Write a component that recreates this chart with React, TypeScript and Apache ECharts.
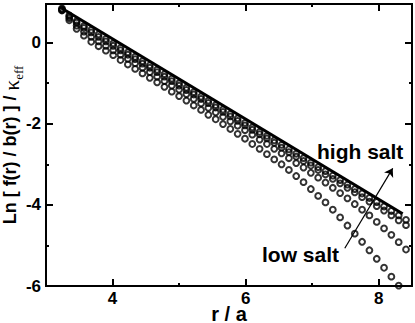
import React, { useEffect, useRef } from "react";
import * as echarts from "echarts";

const rValues = [
  3.24, 3.35, 3.46, 3.57, 3.68, 3.79, 3.9, 4.01, 4.12, 4.23,
  4.34, 4.45, 4.56, 4.67, 4.78, 4.89, 5.0, 5.11, 5.22, 5.33,
  5.44, 5.55, 5.66, 5.77, 5.88, 5.99, 6.1, 6.21, 6.32, 6.43,
  6.54, 6.65, 6.76, 6.87, 6.98, 7.09, 7.2, 7.31, 7.42, 7.53,
  7.64, 7.75, 7.86, 7.97, 8.08, 8.19, 8.3, 8.41,
];
const seriesA = [
  0.84, 0.67, 0.53, 0.41, 0.31, 0.2, 0.09, -0.02, -0.13, -0.24,
  -0.35, -0.46, -0.56, -0.67, -0.78, -0.89, -1.0, -1.11, -1.22, -1.33,
  -1.43, -1.54, -1.65, -1.76, -1.87, -1.98, -2.09, -2.2, -2.3, -2.41,
  -2.52, -2.63, -2.74, -2.85, -2.96, -3.07, -3.17, -3.28, -3.39, -3.5,
  -3.61, -3.72, -3.83, -3.93, -4.04, -4.15, -4.26, -4.37,
];
const seriesB = [
  0.82, 0.64, 0.49, 0.36, 0.25, 0.14, 0.03, -0.08, -0.19, -0.3,
  -0.41, -0.52, -0.62, -0.73, -0.84, -0.95, -1.06, -1.17, -1.28, -1.39,
  -1.49, -1.6, -1.71, -1.82, -1.93, -2.04, -2.15, -2.26, -2.36, -2.47,
  -2.59, -2.7, -2.81, -2.92, -3.03, -3.14, -3.25, -3.36, -3.47, -3.58,
  -3.69, -3.81, -3.92, -4.03, -4.14, -4.26, -4.38, -4.5,
];
const seriesC = [
  0.8, 0.6, 0.42, 0.27, 0.14, 0.03, -0.08, -0.19, -0.3, -0.4,
  -0.51, -0.62, -0.73, -0.84, -0.95, -1.06, -1.16, -1.27, -1.39, -1.5,
  -1.61, -1.72, -1.83, -1.94, -2.05, -2.16, -2.27, -2.39, -2.5, -2.62,
  -2.73, -2.85, -2.97, -3.08, -3.21, -3.33, -3.45, -3.58, -3.71, -3.84,
  -3.98, -4.12, -4.26, -4.42, -4.58, -4.74, -4.92, -5.1,
];
const seriesD = [
  0.79, 0.55, 0.34, 0.17, 0.02, -0.09, -0.2, -0.31, -0.43, -0.54,
  -0.65, -0.76, -0.87, -0.98, -1.09, -1.21, -1.32, -1.43, -1.55, -1.66,
  -1.78, -1.89, -2.01, -2.13, -2.25, -2.37, -2.5, -2.62, -2.75, -2.88,
  -3.0, -3.14, -3.29, -3.44, -3.61, -3.78, -3.94, -4.12, -4.31, -4.51,
  -4.71, -4.91, -5.12, -5.33, -5.55, -5.77, -5.99,
];
const lineR = [3.23, 8.36];
const lineY = [0.85, -4.22];
const xMajorTicks = [4, 6, 8];
const xMinorTicks = [5, 7];
const yMajorTicks = [-6, -4, -2, 0];
const yMinorTicks = [-5, -3, -1];
const arrowFrom = [7.49, -5.07];
const arrowTo = [8.21, -3.1];

const FONT = "'Liberation Sans', Arial, Helvetica, sans-serif";
const SERIF = "'Liberation Serif', 'DejaVu Serif', serif";

export default function App() {
  const ref = useRef<HTMLDivElement>(null);
  useEffect(() => {
    document.body.style.margin = "0";
    const chart = echarts.init(ref.current!, null, { renderer: "svg" });

    const xBase = {
      type: "value",
      min: 3,
      max: 8.5,
      interval: 1,
      splitLine: { show: false },
      axisLine: { show: false, onZero: false },
    };
    const yBase = {
      type: "value",
      min: -6,
      max: 0.95,
      interval: 1,
      splitLine: { show: false },
      axisLine: { show: false, onZero: false },
    };
    const tick = (vals: number[], len: number) => ({
      show: true,
      inside: true,
      length: len,
      customValues: vals,
      lineStyle: { color: "#000", width: 2 },
    });
    const labelStyle = {
      color: "#000",
      fontSize: 17,
      fontWeight: "bold",
      fontFamily: FONT,
    };

    const toPts = (ys: number[]) => ys.map((y, i) => [rValues[i], y]);
    const scatter = (ys: number[]) => ({
      type: "scatter",
      data: toPts(ys),
      symbol: "circle",
      symbolSize: 5.8,
      itemStyle: { color: "rgba(0,0,0,0)", borderColor: "#000", borderWidth: 2 },
      clip: true,
      silent: true,
    });

    const option = {
      animation: false,
      grid: {
        left: 46,
        right: 3,
        top: 4,
        bottom: 37,
        show: true,
        borderColor: "#000",
        borderWidth: 2,
        backgroundColor: "transparent",
        containLabel: false,
        outerBoundsMode: "none",
      },
      xAxis: [
        {
          ...xBase,
          position: "bottom",
          axisTick: tick(xMajorTicks, 7),
          axisLabel: { ...labelStyle, customValues: xMajorTicks, margin: 5, lineHeight: 14 },
          name: "r / a",
          nameLocation: "middle",
          nameGap: 20,
          nameMoveOverlap: false,
          nameTextStyle: { color: "#000", fontSize: 20, fontWeight: "bold", fontFamily: FONT, lineHeight: 16 },
        },
        { ...xBase, position: "bottom", axisTick: tick(xMinorTicks, 3), axisLabel: { show: false } },
        { ...xBase, position: "top", axisTick: tick(xMajorTicks, 7), axisLabel: { show: false } },
        { ...xBase, position: "top", axisTick: tick(xMinorTicks, 3), axisLabel: { show: false } },
      ],
      yAxis: [
        {
          ...yBase,
          position: "left",
          axisTick: tick(yMajorTicks, 7),
          axisLabel: { ...labelStyle, customValues: yMajorTicks, margin: 5 },
          name: "{m|Ln [ f(r) / b(r) ] / }{k|κ}{s|eff}",
          nameLocation: "middle",
          nameGap: 23,
          nameMoveOverlap: false,
          nameTextStyle: {
            color: "#000",
            fontSize: 18,
            fontWeight: "bold",
            fontFamily: FONT,
            rich: {
              m: { fontSize: 18, fontWeight: "bold", fontFamily: FONT, color: "#000", lineHeight: 22, verticalAlign: "top" },
              k: { fontSize: 21, fontWeight: "normal", fontFamily: SERIF, color: "#000", lineHeight: 22, verticalAlign: "top" },
              s: { fontSize: 13, fontWeight: "normal", fontFamily: SERIF, color: "#000", lineHeight: 13, padding: [11, 0, 0, 0], verticalAlign: "top" },
            },
          },
        },
        { ...yBase, position: "left", axisTick: tick(yMinorTicks, 3), axisLabel: { show: false } },
        { ...yBase, position: "right", axisTick: tick(yMajorTicks, 7), axisLabel: { show: false } },
        { ...yBase, position: "right", axisTick: tick(yMinorTicks, 3), axisLabel: { show: false } },
      ],
      series: [
        scatter(seriesA),
        scatter(seriesB),
        scatter(seriesC),
        scatter(seriesD),
        {
          type: "line",
          data: lineR.map((r, i) => [r, lineY[i]]),
          showSymbol: false,
          symbol: "none",
          lineStyle: { color: "#000", width: 3 },
          silent: true,
          markLine: {
            silent: true,
            symbol: ["none", "arrow"],
            symbolSize: 8,
            label: { show: false },
            lineStyle: { color: "#000", width: 1.2, type: "solid" },
            data: [[{ coord: arrowFrom }, { coord: arrowTo }]],
          },
        },
      ],
      graphic: [
        {
          type: "text",
          x: 317,
          y: 151,
          style: { text: "high salt", fill: "#000", font: `bold 21px ${FONT}`, verticalAlign: "middle" },
        },
        {
          type: "text",
          x: 262,
          y: 254,
          style: { text: "low salt", fill: "#000", font: `bold 21px ${FONT}`, verticalAlign: "middle" },
        },
      ],
    };
    chart.setOption(option as any);
    return () => chart.dispose();
  }, []);
  return <div ref={ref} style={{ position: "absolute", left: 0, top: 0, width: 415, height: 323 }} />;
}
